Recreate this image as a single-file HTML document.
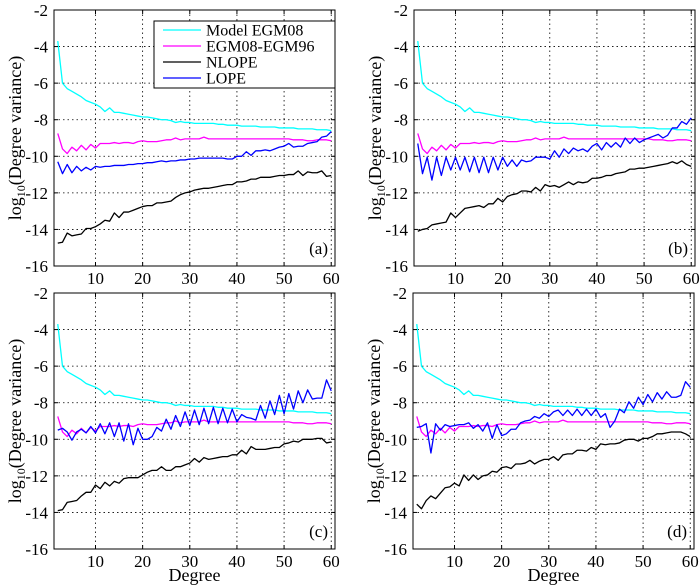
<!DOCTYPE html>
<html><head><meta charset="utf-8"><style>
html,body{margin:0;padding:0;background:#fff}
svg{display:block}
svg text, svg tspan{font-family:"Liberation Serif","DejaVu Serif","Times New Roman",Times,serif !important}
</style></head><body>
<svg id="chart" width="700" height="586" viewBox="0 0 700 586"></svg>
<script>
const degrees=[];for(let d=2;d<=60;d++)degrees.push(d);
const xTicks=[10,20,30,40,50,60];
const yTicks=[-2,-4,-6,-8,-10,-12,-14,-16];
const panelLabels=["(a)","(b)","(c)","(d)"];
const seriesNames=["Model EGM08","EGM08-EGM96","NLOPE","LOPE"];
const seriesColors=["#00ffff","#ff00ff","#000000","#0000ff"];
const modelEGM08=[-3.7,-6.0,-6.3,-6.45,-6.6,-6.75,-6.95,-7.05,-7.15,-7.3,-7.55,-7.35,-7.6,-7.6,-7.65,-7.7,-7.75,-7.8,-7.85,-7.85,-7.9,-7.95,-8.0,-8.0,-8.05,-8.15,-8.1,-8.15,-8.15,-8.2,-8.2,-8.2,-8.2,-8.2,-8.25,-8.25,-8.3,-8.3,-8.3,-8.35,-8.35,-8.35,-8.35,-8.4,-8.4,-8.4,-8.4,-8.45,-8.45,-8.45,-8.45,-8.5,-8.5,-8.5,-8.5,-8.55,-8.55,-8.55,-8.6];
const egm08minus96=[-8.75,-9.6,-9.85,-9.5,-9.7,-9.4,-9.65,-9.35,-9.55,-9.3,-9.3,-9.3,-9.25,-9.3,-9.25,-9.25,-9.3,-9.2,-9.15,-9.2,-9.2,-9.2,-9.15,-9.1,-9.1,-9.0,-9.1,-9.05,-9.05,-9.05,-9.05,-8.95,-9.05,-9.05,-9.05,-9.05,-9.05,-9.05,-9.05,-9.05,-9.05,-9.05,-9.05,-9.05,-9.05,-9.05,-9.05,-9.05,-9.05,-9.05,-9.1,-9.1,-9.1,-9.15,-9.15,-9.1,-9.1,-9.1,-9.15];
const nlopeA=[-14.75,-14.7,-14.2,-14.35,-14.3,-14.25,-13.95,-13.95,-13.85,-13.7,-13.5,-13.55,-13.1,-13.35,-13.05,-13.05,-12.95,-12.85,-12.75,-12.7,-12.7,-12.55,-12.55,-12.5,-12.45,-12.25,-12.1,-12.0,-11.95,-11.85,-11.8,-11.75,-11.75,-11.7,-11.65,-11.6,-11.55,-11.55,-11.4,-11.4,-11.35,-11.25,-11.25,-11.15,-11.15,-11.15,-11.1,-11.05,-11.05,-11.0,-11.0,-10.8,-11.05,-10.85,-10.9,-10.9,-10.8,-11.1,-11.05];
const lopeA=[-10.3,-10.95,-10.45,-10.9,-10.55,-10.8,-10.6,-10.75,-10.55,-10.6,-10.55,-10.55,-10.5,-10.5,-10.5,-10.45,-10.45,-10.4,-10.4,-10.35,-10.35,-10.3,-10.25,-10.3,-10.25,-10.25,-10.2,-10.2,-10.15,-10.15,-10.1,-10.1,-10.1,-10.1,-10.1,-10.1,-10.15,-10.15,-10.0,-10.0,-9.75,-9.95,-9.7,-9.7,-9.65,-9.7,-9.6,-9.5,-9.45,-9.3,-9.5,-9.45,-9.45,-9.3,-9.25,-9.2,-8.95,-8.9,-8.65];
const nlopeB=[-14.1,-14.0,-13.95,-13.75,-13.7,-13.65,-13.6,-13.1,-13.35,-13.1,-12.85,-12.8,-12.75,-12.7,-12.8,-12.6,-12.6,-12.3,-12.5,-12.2,-12.1,-12.05,-11.9,-11.9,-11.95,-11.7,-11.9,-11.55,-11.65,-11.6,-11.7,-11.55,-11.4,-11.55,-11.4,-11.45,-11.4,-11.2,-11.2,-11.15,-11.05,-11.05,-10.95,-10.9,-10.85,-10.7,-10.7,-10.65,-10.65,-10.6,-10.55,-10.5,-10.45,-10.4,-10.3,-10.4,-10.25,-10.45,-10.55];
const lopeB=[-9.3,-10.95,-10.05,-11.3,-10.05,-11.05,-10.05,-10.75,-10.05,-10.75,-10.05,-10.85,-10.05,-10.9,-10.05,-10.9,-10.05,-10.75,-10.05,-10.55,-10.2,-10.55,-10.2,-10.3,-10.25,-10.05,-10.05,-10.05,-10.15,-9.7,-10.05,-9.6,-9.85,-9.55,-9.7,-9.6,-9.75,-9.45,-9.3,-9.65,-9.25,-9.5,-9.25,-9.5,-9.0,-9.3,-9.0,-9.25,-9.1,-9.0,-8.9,-8.8,-9.0,-8.85,-8.45,-8.45,-8.1,-8.25,-7.9];
const nlopeC=[-13.9,-13.85,-13.45,-13.4,-13.35,-13.1,-12.9,-12.9,-12.5,-12.7,-12.35,-12.55,-12.3,-12.4,-12.15,-12.1,-12.1,-12.1,-11.95,-11.8,-11.7,-11.7,-11.5,-11.7,-11.7,-11.5,-11.5,-11.4,-11.3,-11.05,-11.25,-11.0,-11.1,-11.05,-11.0,-10.95,-10.95,-10.85,-10.85,-10.6,-10.8,-10.4,-10.55,-10.55,-10.55,-10.5,-10.45,-10.45,-10.25,-10.2,-10.1,-10.15,-10.0,-10.0,-10.0,-9.95,-9.95,-10.2,-10.15];
const lopeC=[-9.5,-9.4,-9.6,-10.05,-9.6,-9.45,-9.65,-9.3,-9.65,-9.15,-9.7,-9.1,-9.85,-9.1,-10.1,-9.15,-10.3,-9.4,-10.0,-10.0,-9.85,-9.35,-9.55,-8.9,-9.45,-8.7,-9.3,-8.5,-9.25,-8.4,-9.2,-8.3,-9.15,-8.25,-9.15,-8.3,-9.1,-8.35,-9.05,-8.65,-8.8,-8.85,-8.95,-8.15,-8.85,-7.9,-8.65,-7.6,-8.6,-7.5,-8.35,-7.35,-8.0,-7.3,-7.8,-7.75,-7.75,-6.75,-7.35];
const nlopeD=[-13.55,-13.8,-13.35,-13.1,-13.25,-12.95,-12.65,-12.6,-12.4,-12.55,-11.95,-12.25,-11.95,-12.2,-12.0,-11.95,-11.75,-11.8,-11.55,-11.5,-11.6,-11.35,-11.35,-11.3,-11.15,-11.35,-11.2,-11.1,-11.1,-10.95,-11.15,-10.85,-10.8,-10.8,-10.6,-10.6,-10.65,-10.45,-10.55,-10.25,-10.3,-10.25,-10.25,-10.2,-10.05,-10.0,-10.0,-10.1,-9.95,-9.95,-9.85,-9.7,-9.7,-9.65,-9.6,-9.6,-9.6,-9.7,-9.85];
const lopeD=[-9.35,-9.3,-9.15,-10.75,-9.15,-9.5,-9.2,-9.3,-9.25,-9.2,-9.2,-9.1,-9.4,-9.2,-9.55,-9.1,-9.95,-9.2,-9.8,-9.7,-9.45,-9.45,-9.1,-9.0,-8.95,-8.75,-8.85,-8.6,-8.75,-8.5,-8.4,-8.7,-8.4,-8.7,-8.35,-8.7,-8.35,-8.7,-8.35,-8.8,-8.6,-9.35,-9.0,-8.35,-8.55,-7.95,-8.3,-7.7,-8.1,-7.55,-7.95,-7.45,-7.8,-7.4,-7.7,-7.7,-7.6,-6.85,-7.15];

const panels=[
 {x:54,y:10,label:0,nl:nlopeA,lo:lopeA,legend:true,xlab:false},
 {x:414,y:10,label:1,nl:nlopeB,lo:lopeB,legend:false,xlab:false},
 {x:54,y:293,label:2,nl:nlopeC,lo:lopeC,legend:false,xlab:true},
 {x:413,y:293,label:3,nl:nlopeD,lo:lopeD,legend:false,xlab:true}
];
const W=281,H=256,XMIN=1.2,XMAX=60.8,YMIN=-16,YMAX=-2;
const FF="Liberation Serif, DejaVu Serif, serif";
const svg=document.getElementById('chart');
const NS='http://www.w3.org/2000/svg';
function mk(tag,attrs,parent){const e=document.createElementNS(NS,tag);for(const k in attrs)e.setAttribute(k,attrs[k]);if(tag==='text'){e.setAttribute('font-family',FF);e.style.fontFamily='"Liberation Serif","DejaVu Serif",serif';}parent.appendChild(e);return e;}

panels.forEach((p,pi)=>{
 const sx=v=>p.x+(v-XMIN)/(XMAX-XMIN)*W;
 const sy=v=>p.y+(YMAX-v)/(YMAX-YMIN)*H;
 const g=mk('g',{},svg);
 
 
 xTicks.forEach(t=>{const l=mk('line',{x1:sx(t),x2:sx(t),y1:p.y,y2:p.y+H,stroke:'#000','stroke-width':0.8,'stroke-dasharray':'1.5,3'},g);
  });
 yTicks.forEach(t=>{const l=mk('line',{x1:p.x,x2:p.x+W,y1:sy(t),y2:sy(t),stroke:'#000','stroke-width':0.8,'stroke-dasharray':'1.5,3'},g);
  });
 const sets=[modelEGM08,egm08minus96,p.nl,p.lo];
 sets.forEach((arr,si)=>{
  const pts=arr.map((v,i)=>sx(degrees[i]).toFixed(2)+','+sy(v).toFixed(2)).join(' ');
  const pl=mk('polyline',{points:pts,fill:'none',stroke:seriesColors[si],'stroke-width':1.3,'stroke-linejoin':'round'},g);
  
  
 });
 const fr=mk('rect',{x:p.x,y:p.y,width:W,height:H,fill:'none',stroke:'#000','stroke-width':1},g);
 
 xTicks.forEach(t=>{
  mk('line',{x1:sx(t),x2:sx(t),y1:p.y+H,y2:p.y+H-4,stroke:'#000'},g);
  mk('line',{x1:sx(t),x2:sx(t),y1:p.y,y2:p.y+4,stroke:'#000'},g);
  const tx=mk('text',{x:sx(t),y:p.y+H+18,'text-anchor':'middle','font-size':17},g);tx.textContent=t;
  
 });
 yTicks.forEach(t=>{
  mk('line',{x1:p.x,x2:p.x+4,y1:sy(t),y2:sy(t),stroke:'#000'},g);
  mk('line',{x1:p.x+W,x2:p.x+W-4,y1:sy(t),y2:sy(t),stroke:'#000'},g);
  const tx=mk('text',{x:p.x-6,y:sy(t)+6,'text-anchor':'end','font-size':17},g);tx.textContent=t;
  
 });
 const yl=mk('text',{transform:`translate(${p.x-33},${p.y+H/2}) rotate(-90)`,'text-anchor':'middle','font-size':18},g);
 
 yl.appendChild(document.createTextNode('log'));
 const sub=mk('tspan',{'font-size':12,dy:4},yl);sub.textContent='10';
 const rest=mk('tspan',{dy:-4},yl);rest.textContent='(Degree variance)';
 if(p.xlab){const xl=mk('text',{x:p.x+W/2,y:p.y+H+32,'text-anchor':'middle','font-size':18},g);xl.textContent='Degree';
  }
 const pl=mk('text',{x:p.x+W-7,y:p.y+H-12,'text-anchor':'end','font-size':17},g);pl.textContent=panelLabels[p.label];
 
 if(p.legend){
  const lg=mk('g',{},g);
  mk('rect',{x:154,y:21,width:181,height:67,fill:'#fff',stroke:'#000','stroke-width':1},lg);
  seriesNames.forEach((n,i)=>{
   const yy=30+i*16;
   const e=mk('g',{},lg);
   mk('line',{x1:163,x2:201,y1:yy,y2:yy,stroke:seriesColors[i],'stroke-width':1.3},e);
   const t=mk('text',{x:206,y:yy+5.5,'font-size':16},e);t.textContent=n;
  });
 }
});
</script>
</body></html>
